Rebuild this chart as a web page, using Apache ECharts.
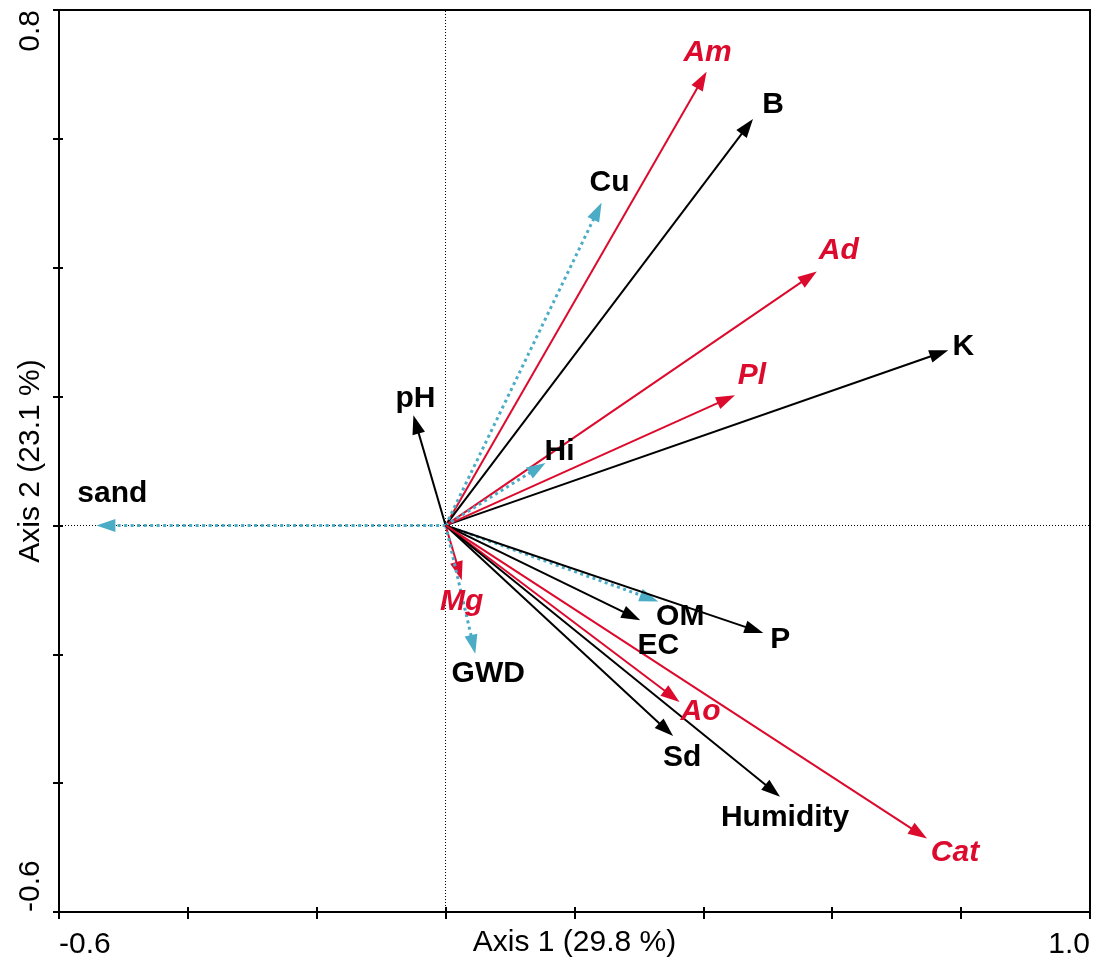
<!DOCTYPE html>
<html><head><meta charset="utf-8">
<script src="https://cdn.jsdelivr.net/npm/echarts@6/dist/echarts.min.js"></script>
<style>html,body{margin:0;padding:0;background:#fff}#c{width:1096px;height:964px}</style>
</head><body><div id="c"></div>
<script>
// ---- data ----
const varNames = ['Am','B','Cu','Ad','K','Pl','pH','Hi','sand','Mg','GWD','OM','EC','P','Ao','Sd','Humidity','Cat'];
const axis1Scores = [0.405,0.477,0.242,0.576,0.780,0.449,-0.050,0.155,-0.542,0.025,0.046,0.330,0.302,0.493,0.363,0.353,0.519,0.747];
const axis2Scores = [0.704,0.631,0.501,0.394,0.272,0.202,0.171,0.097,0.000,-0.085,-0.199,-0.118,-0.147,-0.167,-0.274,-0.327,-0.421,-0.486];
const varGroups = ['species','soil','other','species','soil','species','soil','other','other','species','other','other','soil','soil','species','soil','soil','species'];
const xTickValues = [-0.6, 1.0];
const xTickTexts = ['-0.6', '1.0'];
const yTickValues = [-0.6, 0.8];
const yTickTexts = ['-0.6', '0.8'];
const axisNames = ['Axis 1 (29.8 %)', 'Axis 2 (23.1 %)'];

// ---- styles ----
const FONT = '"Liberation Sans", Arial, Helvetica, sans-serif';
const groupStyle = {
  species: {color:'#DC0A2D', width:2, dash:null, labelColor:'#DC0A2D', italic:true},
  soil:    {color:'#000000', width:2, dash:null, labelColor:'#000000', italic:false},
  other:   {color:'#4BACC6', width:3, dash:[3,3.5], labelColor:'#000000', italic:false}
};
// label placement relative to arrow tip (px)
const labelOffsets = {
  Am:[1,-19], B:[20,-14], Cu:[8,-20], Ad:[22,-21], K:[15,-3], Pl:[17,-20], pH:[2,-17],
  Hi:[14,-11], sand:[16,-32], Mg:[0,22], GWD:[13,20], OM:[22,15], EC:[18,26], P:[17,7],
  Ao:[21,10], Sd:[9,22], Humidity:[5,21], Cat:[28,14]
};

function fmt(values, texts) {
  return function (v) {
    const k = values.findIndex(t => Math.abs(t - v) < 1e-9);
    return k >= 0 ? texts[k] : '';
  };
}

const seriesData = varNames.map((n, i) => [axis1Scores[i], axis2Scores[i]]);

const chart = echarts.init(document.getElementById('c'), null, {renderer:'canvas'});
const axisLineStyle = {color:'#000', width:2};
const gridRect = {left:59, right:6, top:10, bottom:52, containLabel:false, outerBoundsMode:'none'};
chart.setOption({
  animation:false,
  backgroundColor:'#fff',
  grid:[
    Object.assign({show:true, borderColor:'#000', borderWidth:2, backgroundColor:'transparent'}, gridRect),
    Object.assign({show:false}, gridRect)
  ],
  xAxis:[{
    gridIndex:0, type:'value', min:-0.6, max:1.0, interval:0.2, position:'bottom',
    axisLine:{show:true, onZero:false, lineStyle:axisLineStyle},
    axisTick:{show:true, inside:false, length:7, lineStyle:axisLineStyle},
    splitLine:{show:false},
    axisLabel:{formatter:fmt(xTickValues, xTickTexts), color:'#000', fontSize:30, fontFamily:FONT, margin:18,
      alignMinLabel:'left', alignMaxLabel:'right', showMinLabel:true, showMaxLabel:true},
    name:axisNames[0], nameLocation:'middle', nameGap:16, nameMoveOverlap:false,
    nameTextStyle:{color:'#000', fontSize:30, fontFamily:FONT, verticalAlign:'top'}
  },{
    gridIndex:1, type:'value', min:-0.6, max:1.0, interval:0.2, position:'bottom',
    axisLine:{show:false, onZero:false}, axisTick:{show:true, inside:true, length:5, lineStyle:axisLineStyle},
    axisLabel:{show:false}, splitLine:{show:false}
  }],
  yAxis:[{
    gridIndex:0, type:'value', min:-0.6, max:0.8, interval:0.2, position:'left',
    axisLine:{show:true, onZero:false, lineStyle:axisLineStyle},
    axisTick:{show:true, inside:false, length:6, lineStyle:axisLineStyle},
    splitLine:{show:false},
    axisLabel:{formatter:fmt(yTickValues, yTickTexts), rotate:90, color:'#000', fontSize:30, fontFamily:FONT, margin:13,
      alignMinLabel:'left', alignMaxLabel:'right', showMinLabel:true, showMaxLabel:true},
    name:axisNames[1], nameLocation:'middle', nameGap:13, nameMoveOverlap:false,
    nameTextStyle:{color:'#000', fontSize:30, fontFamily:FONT}
  },{
    gridIndex:1, type:'value', min:-0.6, max:0.8, interval:0.2, position:'left',
    axisLine:{show:false, onZero:false}, axisTick:{show:true, inside:true, length:4, lineStyle:axisLineStyle},
    axisLabel:{show:false}, splitLine:{show:false}
  }],
  series:[{
    type:'line', data:[], silent:true, xAxisIndex:0, yAxisIndex:0,
    markLine:{silent:true, symbol:'none', label:{show:false}, animation:false,
      lineStyle:{color:'#000', type:[1,2], width:1},
      data:[{xAxis:0},{yAxis:0}]}
  },{
    type:'line', data:[], silent:true, xAxisIndex:1, yAxisIndex:1
  },{
    type:'custom', data:seriesData, silent:true, clip:false, z:5, xAxisIndex:0, yAxisIndex:0,
    renderItem:function (params, api) {
      const i = params.dataIndex;
      const o = api.coord([0, 0]);
      const t = api.coord([api.value(0), api.value(1)]);
      const dx = t[0]-o[0], dy = t[1]-o[1];
      const len = Math.hypot(dx, dy);
      const ux = dx/len, uy = dy/len, nx = -uy, ny = ux;
      const L = 19, W = 13;
      const bx = t[0]-ux*L, by = t[1]-uy*L;
      const st = groupStyle[varGroups[i]];
      const off = labelOffsets[varNames[i]] || [0,0];
      return {type:'group', children:[
        {type:'line', shape:{x1:o[0], y1:o[1], x2:bx+ux*3, y2:by+uy*3},
          style:{stroke:st.color, lineWidth:st.width, lineDash:st.dash, fill:null}},
        {type:'polygon', shape:{points:[[t[0],t[1]],[bx+nx*W/2,by+ny*W/2],[bx-nx*W/2,by-ny*W/2]]},
          style:{fill:st.color}},
        {type:'text', x:t[0]+off[0], y:t[1]+off[1], z2:20,
          style:{text:varNames[i], fill:st.labelColor, fontSize:30, fontWeight:'bold',
            fontStyle: st.italic ? 'italic' : 'normal', fontFamily:FONT, align:'center', verticalAlign:'middle'}}
      ]};
    }
  }]
});
</script></body></html>
